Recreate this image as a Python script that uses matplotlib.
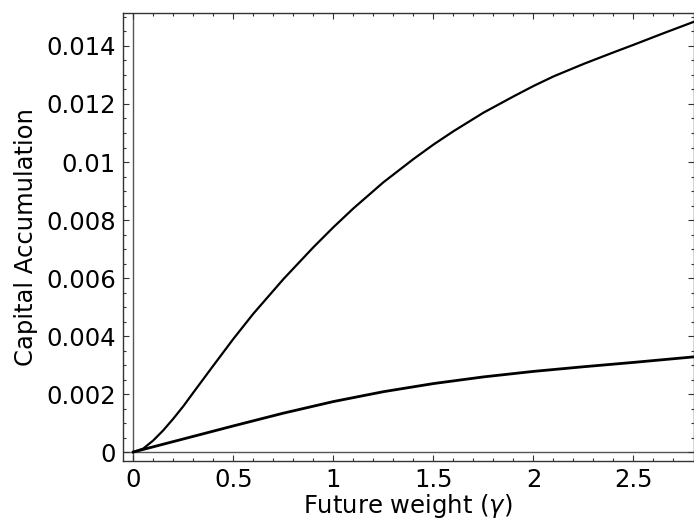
import matplotlib
matplotlib.use("Agg")
import matplotlib.pyplot as plt
from matplotlib.ticker import MultipleLocator, FixedLocator

# --- data ---
gamma_upper = [0.0, 0.05, 0.1, 0.15, 0.2, 0.25, 0.3, 0.4, 0.5, 0.6, 0.75, 0.9, 1.0,
               1.1, 1.25, 1.4, 1.5, 1.6, 1.75, 1.9, 2.0, 2.1, 2.25, 2.4, 2.5, 2.65, 2.8]
capital_upper = [0.0, 0.00012, 0.00040, 0.00075, 0.00115, 0.00158, 0.00205, 0.00298,
                 0.00390, 0.00477, 0.00596, 0.00706, 0.00775, 0.00840, 0.00930, 0.01010,
                 0.01060, 0.01106, 0.01170, 0.01226, 0.01262, 0.01295, 0.01338, 0.01378,
                 0.01404, 0.01444, 0.01483]

gamma_lower = [0.0, 0.1, 0.25, 0.5, 0.75, 1.0, 1.25, 1.5, 1.75, 2.0, 2.25, 2.5, 2.8]
capital_lower = [0.0, 0.00018, 0.00045, 0.00090, 0.00134, 0.00174, 0.00208, 0.00236,
                 0.00259, 0.00278, 0.00294, 0.00309, 0.00328]

x_ticks = [0, 0.5, 1, 1.5, 2, 2.5]
x_tick_labels = ["0", "0.5", "1", "1.5", "2", "2.5"]
y_ticks = [0, 0.002, 0.004, 0.006, 0.008, 0.010, 0.012, 0.014]
y_tick_labels = ["0", "0.002", "0.004", "0.006", "0.008", "0.01", "0.012", "0.014"]

x_label = "Future weight ($\\gamma$)"
y_label = "Capital Accumulation"

# --- figure ---
fig = plt.figure(figsize=(6.94, 5.23), dpi=100)
ax = fig.add_axes([122.7 / 694, 61.7 / 523, (693.5 - 122.7) / 694, (461.3 - 12.7) / 523])

ax.axhline(0, color="#555555", lw=1.0, zorder=1)
ax.axvline(0, color="#555555", lw=1.0, zorder=1)

ax.plot(gamma_upper, capital_upper, color="black", lw=1.6, zorder=3)
ax.plot(gamma_lower, capital_lower, color="black", lw=2.0, zorder=3)

ax.set_xlim(-0.053, 2.8)
ax.set_ylim(-0.00032, 0.015148)

ax.xaxis.set_major_locator(FixedLocator(x_ticks))
ax.set_xticklabels(x_tick_labels)
ax.yaxis.set_major_locator(FixedLocator(y_ticks))
ax.set_yticklabels(y_tick_labels)
ax.xaxis.set_minor_locator(MultipleLocator(0.1))
ax.yaxis.set_minor_locator(MultipleLocator(0.0005))

ax.tick_params(which="both", direction="in", top=True, right=True, color="#333333", width=0.8)
ax.tick_params(which="major", length=4.2, labelsize=17.5, pad=5)
ax.tick_params(which="minor", length=2.4)

for s in ax.spines.values():
    s.set_color("#333333")
    s.set_linewidth(1.0)

ax.set_xlabel(x_label, fontsize=17.5, labelpad=0)
ax.set_ylabel(y_label, fontsize=17.5, labelpad=6)

fig.savefig("out.png", dpi=100)
